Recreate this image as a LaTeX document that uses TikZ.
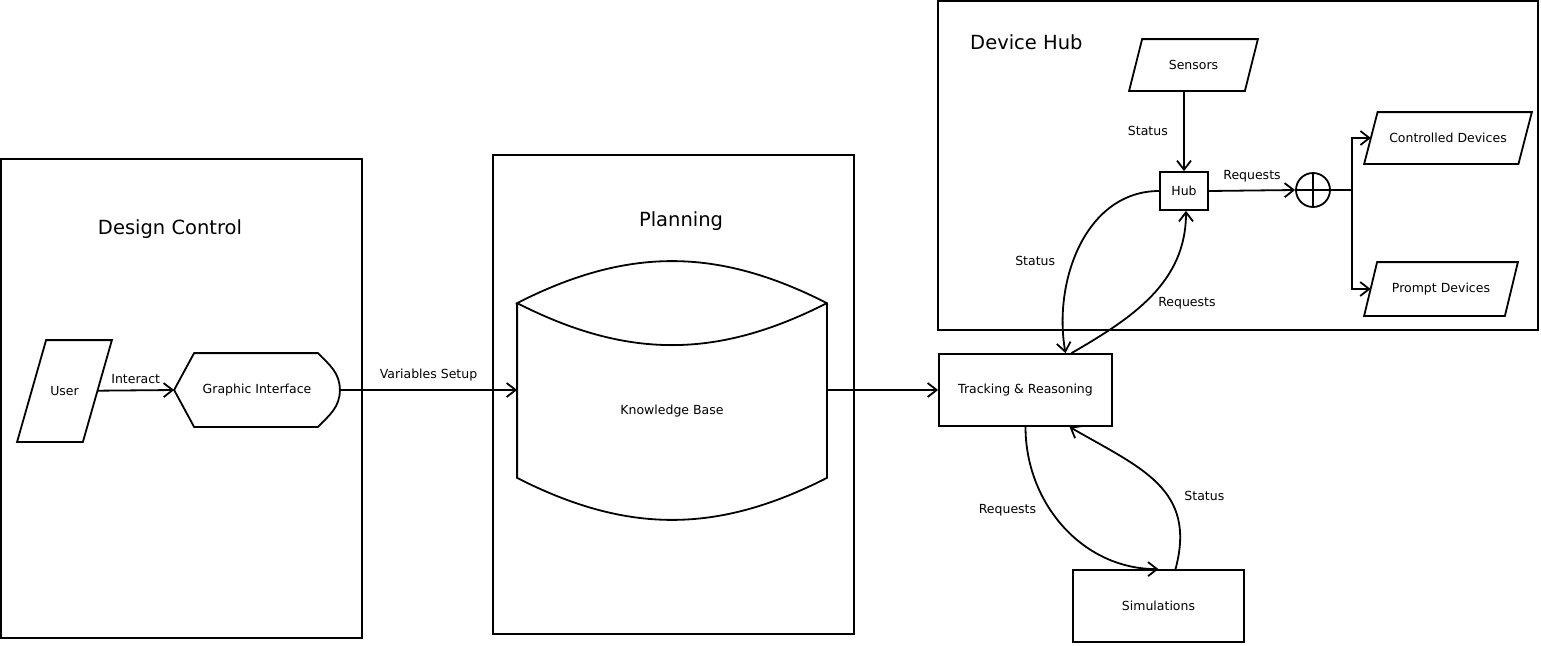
\documentclass[tikz,border=0pt]{standalone}
\usepackage{fontspec}
\setmainfont{DejaVu Sans}
\usetikzlibrary{arrows.meta,positioning}

\begin{document}
\begin{tikzpicture}[
    x = 1pt, y = 1pt,
    every node/.style = {align=center, font=\fontsize{12.5}{15}\selectfont},
    >={Straight Barb[length=9pt,width=14pt]},
    line width = 1.8pt,
    box/.style = {draw, rectangle, inner sep=0pt},
    ioshape/.style = {inner sep=0pt, append after command={\pgfextra{\let\ionode\tikzlastnode
        \draw ([xshift=#1]\ionode.north west) -- ([xshift=#1]\ionode.north east)
          -- ([xshift=-#1]\ionode.south east) -- ([xshift=-#1]\ionode.south west) -- cycle;}}},
    title/.style = {font=\fontsize{19.5}{23}\selectfont}
  ]
  \useasboundingbox (0,0) rectangle (1541,-645);

  % frames
  \node[box, minimum width=361, minimum height=479] (DesignBox) at (181.5,-398.5) {};
  \node[title] (DesignTitle) at (170,-229) {Design Control};
  \node[box, minimum width=361, minimum height=479] (PlanBox) at (673.5,-394.5) {};
  \node[title] (PlanTitle) at (681,-221) {Planning};
  \node[box, minimum width=600, minimum height=329] (HubBox) at (1238,-165.5) {};
  \node[title, anchor=west] (HubTitle) at (966,-42) {Device Hub};

  % design control
  \node[ioshape=14.5, minimum width=64, minimum height=100] (User) at (64.5,-391) {User};
  \node[minimum width=164, minimum height=72, inner sep=0pt] (Gui) at (257,-390) {Graphic Interface};
  \draw (Gui.west) -- ([xshift=20]Gui.north west) -- ([xshift=-22]Gui.north east)
        to[out=-45,in=90] (Gui.east) to[out=-90,in=45] ([xshift=-22]Gui.south east)
        -- ([xshift=20]Gui.south west) -- cycle;

  % planning
  \node[minimum width=308, minimum height=173, inner sep=0pt] (Kb) at (672,-390.5) {};
  \node (KbText) at ([yshift=-21]Kb.center) {Knowledge Base};
  \draw (Kb.north west) -- (Kb.south west)
        .. controls ([shift={(110,-56)}]Kb.south west) and ([shift={(-110,-56)}]Kb.south east) .. (Kb.south east)
        -- (Kb.north east)
        .. controls ([shift={(-110,56)}]Kb.north east) and ([shift={(110,56)}]Kb.north west) .. (Kb.north west)
        .. controls ([shift={(110,-56)}]Kb.north west) and ([shift={(-110,-56)}]Kb.north east) .. (Kb.north east);

  % reasoning
  \node[box, minimum width=173, minimum height=72] (Track) at (1025.5,-390) {Tracking \& Reasoning};
  \node[box, minimum width=171, minimum height=72] (Sim) at (1158.5,-606) {Simulations};

  % device hub
  \node[ioshape=6.5, minimum width=114, minimum height=50] (Sensors) at (1193.5,-65) {Sensors};
  \node[box, minimum width=48, minimum height=38] (Hub) at (1184,-191) {Hub};
  \node[draw, circle, minimum size=34, inner sep=0pt] (Plus) at (1313,-190) {};
  \draw (Plus.north) -- (Plus.south) (Plus.west) -- (Plus.east);
  \node[ioshape=6.7, minimum width=152.5, minimum height=50] (Ctrl) at (1448,-138) {Controlled Devices};
  \node[ioshape=6.5, minimum width=139, minimum height=52] (Prompt) at (1441,-289) {Prompt Devices};
  \coordinate (Split) at (1352,-190);

  \path[->] (User) edge node[above=2pt] {Interact} (Gui.west)
            (Gui.east) edge node[above=5pt] {Variables Setup} (Gui.east -| Kb.west)
            (Kb.east |- Track.west) edge (Track.west)
            (Hub.north |- Sensors.south) edge node[left=12pt] {Status} (Hub.north)
            (Hub.east) edge node[above=4pt] {Requests} (Plus.west)
            (Hub.west) edge[out=180, in=100] node[pos=0.58, left=14pt] {Status} ([xshift=40]Track.north)
            ([xshift=46]Track.north) edge[out=30, in=-90] node[pos=0.44, right=10pt] {Requests} ([xshift=2]Hub.south)
            (Track.south) edge[out=-90, in=180] node[pos=0.4, left=10pt] {Requests} (Sim.north)
            ([xshift=17]Sim.north) edge[out=75, in=-30, looseness=1.2] node[pos=0.4, right=12pt] {Status} ([xshift=44]Track.south);

  \draw (Plus.east) -- (Split);
  \draw[->] (Split) |- (Ctrl.west);
  \draw[->] (Split) |- (Prompt.west);

\end{tikzpicture}
\end{document}
